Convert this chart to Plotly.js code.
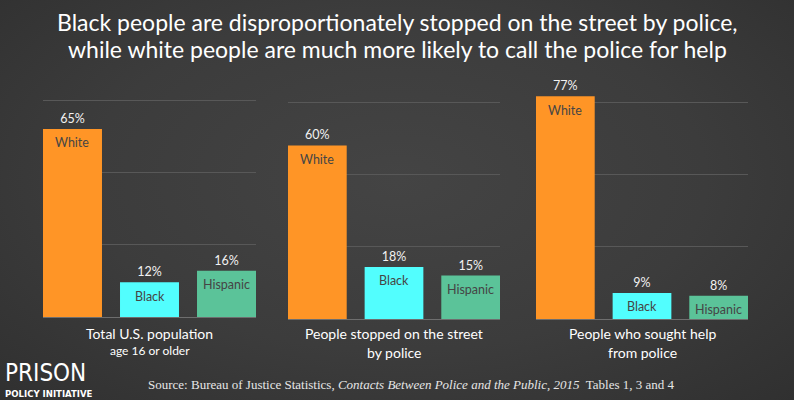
<!DOCTYPE html>
<html>
<head>
<meta charset="utf-8">
<script src="https://cdn.plot.ly/plotly-3.0.1.min.js"></script>
<style>
html,body{margin:0;padding:0;}
body{width:794px;height:400px;overflow:hidden;background:radial-gradient(ellipse at 50% 45%, #444444 0%, #3c3c3c 55%, #303030 100%);}
#chart{width:794px;height:400px;}
</style>
</head>
<body>
<div id="chart"></div>
<script>
// ---- data ----
const groups = ["White", "Black", "Hispanic"];
const population = [65, 12, 16];
const stopped = [60, 18, 15];
const soughtHelp = [77, 9, 8];
const panelLine1 = ["Total U.S. population", "People stopped on the street", "People who sought help"];
const panelLine2 = ["age 16 or older", "by police", "from police"];
const titleLines = ["Black people are disproportionately stopped on the street by police,",
                    "while white people are much more likely to call the police for help"];
const sourceText = "Source: Bureau of Justice Statistics, <i>Contacts Between Police and the Public, 2015</i>  Tables 1, 3 and 4";

// ---- style ----
const FONT = "Lato, 'Open Sans', sans-serif";
const barColors = ["#FF9526", "#52FEFE", "#5BC399"];
const W = 794, H = 400;
const xDomPx = [[43, 256], [288, 500], [536, 748]];
const yBasePx = [317, 319, 319];
const pxPerUnit = 217 / 75;
const yMax = 80;
const barW = 0.766;
const series = [population, stopped, soughtHelp];
const xpos = groups.map((g, i) => i);

const traces = [];
const annotations = [];
const layout = {
  width: W, height: H,
  margin: {l: 0, r: 0, t: 0, b: 0},
  paper_bgcolor: "rgba(0,0,0,0)",
  plot_bgcolor: "rgba(0,0,0,0)",
  showlegend: false,
  font: {family: FONT, color: "#ffffff"},
  annotations: annotations
};

// title lines
const titleY = [22, 49];
titleLines.forEach((t, i) => {
  annotations.push({
    xref: "paper", yref: "paper", x: 0.5, y: 1 - titleY[i] / H,
    xanchor: "center", yanchor: "middle", text: t, showarrow: false,
    font: {size: 23, color: "#ffffff", family: FONT}
  });
});

series.forEach((vals, p) => {
  const suffix = p === 0 ? "" : String(p + 1);
  const xa = "x" + suffix, ya = "y" + suffix;
  traces.push({
    type: "bar",
    x: xpos,
    y: vals,
    width: barW,
    xaxis: xa, yaxis: ya,
    marker: {color: barColors, line: {width: 0}},
    text: vals.map(v => v + "%"),
    textposition: "outside",
    cliponaxis: false,
    textfont: {size: 12.5, color: "#f2f2f2", family: FONT},
    hoverinfo: "skip"
  });
  const top = yBasePx[p] - yMax * pxPerUnit;
  layout["xaxis" + suffix] = {
    domain: [xDomPx[p][0] / W, xDomPx[p][1] / W],
    range: [-barW / 2, 2 + barW / 2],
    showgrid: false, zeroline: false,
    showticklabels: false, ticks: "",
    showline: true, linecolor: "#6e6e6e", linewidth: 1,
    anchor: ya, fixedrange: true
  };
  layout["yaxis" + suffix] = {
    domain: [1 - yBasePx[p] / H, 1 - top / H],
    range: [0, yMax],
    dtick: 25,
    showgrid: true, gridcolor: "#585858", gridwidth: 1,
    zeroline: false, showticklabels: false, ticks: "",
    showline: false,
    anchor: xa, fixedrange: true
  };
  // group names inside bars
  groups.forEach((g, i) => {
    annotations.push({
      xref: xa, yref: ya, x: i, y: vals[i],
      yshift: -14, text: g, showarrow: false,
      font: {size: 12.5, color: "#454545", family: FONT}
    });
  });
  // panel labels
  annotations.push({
    xref: xa, yref: "paper", x: 1, y: 1 - 333 / H, yanchor: "middle",
    text: panelLine1[p], showarrow: false,
    font: {size: 14, color: "#ffffff", family: FONT}
  });
  annotations.push({
    xref: xa, yref: "paper", x: 1, y: 1 - (p === 0 ? 350 : 352) / H, yanchor: "middle",
    text: panelLine2[p], showarrow: false,
    font: {size: p === 0 ? 12 : 14, color: "#ffffff", family: FONT}
  });
});

// logo
annotations.push({
  xref: "paper", yref: "paper", x: 3 / W, y: 1 - 373 / H, xanchor: "left", yanchor: "middle",
  text: "PRISON", showarrow: false,
  font: {size: 24, color: "#ffffff", family: "'Liberation Sans Narrow', 'DejaVu Sans Condensed', sans-serif"}
});
annotations.push({
  xref: "paper", yref: "paper", x: 3 / W, y: 1 - 393 / H, xanchor: "left", yanchor: "middle",
  text: "<b>POLICY INITIATIVE</b>", showarrow: false,
  font: {size: 9.5, color: "#ffffff", family: "'Liberation Sans Narrow', 'DejaVu Sans Condensed', sans-serif"}
});
// source
annotations.push({
  xref: "paper", yref: "paper", x: 146 / W, y: 1 - 384 / H, xanchor: "left", yanchor: "middle",
  text: sourceText, showarrow: false,
  font: {size: 13, color: "#e6e6e6", family: "'Liberation Serif', 'DejaVu Serif', serif"}
});

Plotly.newPlot("chart", traces, layout, {displayModeBar: false, staticPlot: true});
</script>
</body>
</html>
